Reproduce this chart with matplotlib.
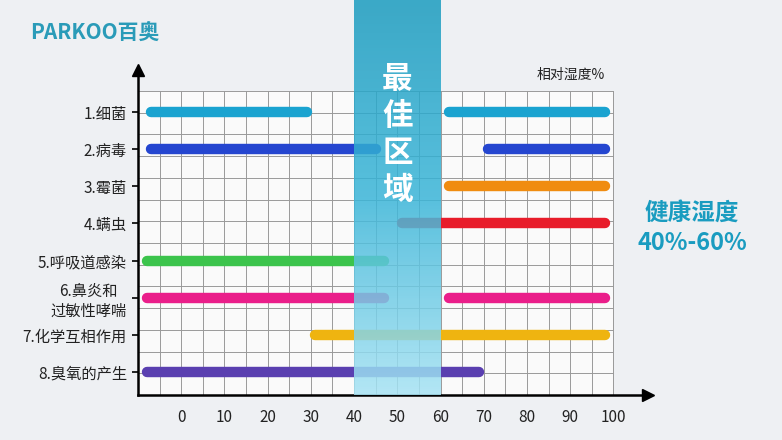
import numpy as np
import matplotlib
matplotlib.use('Agg')
import matplotlib.pyplot as plt
from matplotlib.colors import LinearSegmentedColormap
from matplotlib.patches import Rectangle

plt.rcParams['font.family'] = ['Noto Sans CJK SC', 'DejaVu Sans']

labels = ['1.细菌', '2.病毒', '3.霉菌', '4.螨虫', '5.呼吸道感染', '6.鼻炎和\n过敏性哮喘', '7.化学互相作用', '8.臭氧的产生']
# (start, end) segments per category, relative humidity %
segments = [
    [(-7, 29), (62, 98)],
    [(-7, 45), (71, 98)],
    [(62, 98)],
    [(51, 98)],
    [(-8, 47)],
    [(-8, 47), (62, 98)],
    [(31, 98)],
    [(-8, 69)],
]
colors = ['#1aa3d0', '#2546d0', '#f08c10', '#e81c2a', '#3cc44c', '#ea1e8a', '#efb410', '#5a3fb0']
xticks = [0, 10, 20, 30, 40, 50, 60, 70, 80, 90, 100]
band = (40, 60)

fig = plt.figure(figsize=(7.82, 4.40), dpi=100)
fig.patch.set_facecolor('#eef0f3')
ax = fig.add_axes([138 / 782, 45 / 440, 510 / 782, 325 / 440])
ax.set_facecolor('none')
y_top, y_bot = -0.135, 8.62
ax.set_xlim(-10, 108)
ax.set_ylim(y_bot, y_top)

ax.add_patch(Rectangle((-10, 0.43), 110, y_bot - 0.43, facecolor='#fafafa', edgecolor='none', zorder=0))
# grid
for gx in np.arange(-5, 101, 5):
    ax.plot([gx, gx], [y_bot, 0.43], color='#999999', lw=0.7, zorder=1)
for gy in np.arange(0.43, 8.6, 0.585):
    ax.plot([-10, 100], [gy, gy], color='#999999', lw=0.7, zorder=1)

for i, segs in enumerate(segments):
    for s, e in segs:
        ax.plot([s, e], [i + 1, i + 1], color=colors[i], lw=7.5,
                solid_capstyle='round', zorder=3)

# best-zone band
cmap = LinearSegmentedColormap.from_list('band', ['#1b9cbf', '#3ab5d8', '#a6e3f4'])
grad = np.linspace(0, 1, 200).reshape(-1, 1)
ext_top = y_top - 70 * (y_bot - y_top) / 325
ax.imshow(grad, cmap=cmap, extent=[band[0], band[1], y_bot, ext_top],
          aspect='auto', alpha=0.85, zorder=4, clip_on=False)
ax.set_xlim(-10, 108)
ax.set_ylim(y_bot, y_top)
ax.text(50, 1.6, '最\n佳\n区\n域', color='white', fontsize=22, fontweight='bold',
        ha='center', va='center', linespacing=1.2, zorder=5)

for sp in ['top', 'right']:
    ax.spines[sp].set_visible(False)
ax.spines['left'].set_linewidth(1.8)
ax.spines['bottom'].set_linewidth(1.8)
ax.plot(1, 0, '>', color='black', ms=8, transform=ax.transAxes, clip_on=False)
ax.plot(0, 1, '^', color='black', ms=8, transform=ax.transAxes, clip_on=False)

ax.set_xticks(xticks)
ax.set_xticklabels([str(t) for t in xticks], fontsize=11, color='#222222')
ax.tick_params(axis='x', length=0, pad=10)
ax.set_yticks(range(1, 9))
ax.set_yticklabels(labels, fontsize=11, color='#222222', ha='center')
ax.tick_params(axis='y', length=4, width=1.2, pad=0)
for t in ax.get_yticklabels():
    t.set_x(-0.0)
ax.yaxis.set_tick_params(pad=42)
for t in ax.get_yticklabels()[:4] + ax.get_yticklabels()[4:]:
    t.set_horizontalalignment('right')
ax.yaxis.set_tick_params(pad=4)
ax.get_yticklabels()[5].set_horizontalalignment('right')
ax.get_yticklabels()[5].set_multialignment('center')

ax.text(98, 0.0, '相对湿度%', fontsize=10, ha='right', va='center', color='#222222')
fig.text(30 / 782, 1 - 32 / 440, 'PARKOO百奥', fontsize=15, fontweight='bold',
         color='#2a9bb8', va='center')
fig.text(692 / 782, 1 - 228 / 440, '健康湿度\n40%-60%', fontsize=17, fontweight='bold',
         color='#1a9cc0', ha='center', va='center', linespacing=1.3)

fig.savefig('out.png', dpi=100, facecolor=fig.get_facecolor())
